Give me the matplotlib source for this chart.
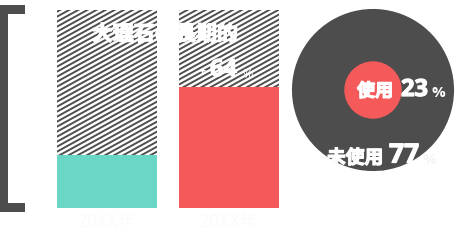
import numpy as np
import matplotlib.pyplot as plt
import matplotlib.patheffects as pe
from matplotlib.patches import Circle, Rectangle
from matplotlib.collections import LineCollection
from matplotlib.transforms import IdentityTransform

plt.rcParams['font.family'] = ['Noto Sans CJK JP', 'DejaVu Sans']

# -----------------------------
# Data
# -----------------------------
years = ['20XX年', '20XX年']
shares = [27, 61]
bar_colors = ['#6ad6c5', '#f55a5a']
title = '大理石の長期的'
growth = 64
pie_labels = ['使用', '未使用']
pie_values = [23, 77]

dark = '#4d4d4d'
W, H = 460, 240
bold = [pe.withStroke(linewidth=0.9, foreground='white')]

fig = plt.figure(figsize=(W / 100, H / 100), dpi=100)

# -----------------------------
# Bars
# -----------------------------
ax = fig.add_axes([57 / W, 32 / H, 222 / W, 198 / H])
x = range(len(shares))
bg = ax.bar(x, [100] * len(shares), width=0.82, color='white', linewidth=0,
            zorder=1)
ax.bar(x, shares, width=0.82, color=bar_colors, linewidth=0, zorder=3)
ax.set_xlim(-0.41, 1.41)
ax.set_ylim(0, 100)
ax.axis('off')
for i, lab in enumerate(years):
    ax.text(i, -7, lab, ha='center', va='center', fontsize=13,
            color='#fbfbfb', clip_on=False)

# diagonal stripes on the bar background (pixel space, clipped to each bar)
slope, period = 0.55, 5.0
for rect in bg:
    segs = [[(0, c), (W, c + slope * W)]
            for c in np.arange(-slope * W, H, period)]
    lc = LineCollection(segs, colors='#4f4f4f', linewidths=1.4,
                        transform=IdentityTransform(), zorder=2)
    ax.add_collection(lc)
    lc.set_clip_path(rect)

# -----------------------------
# Pie (used / unused)
# -----------------------------
pax = fig.add_axes([293 / W, 70 / H, 160 / W, 160 / H])
pax.pie(pie_values[::-1], colors=[dark, dark], radius=1,
        wedgeprops=dict(linewidth=1.5, edgecolor=dark))
pax.add_patch(Circle((0, 0), 0.35, color='#f55a5a', zorder=3))
pax.set_xlim(-1, 1)
pax.set_ylim(-1, 1)
pax.set_aspect('equal')
pax.axis('off')

# -----------------------------
# Overlay: bracket and texts (pixel coords)
# -----------------------------
ov = fig.add_axes([0, 0, 1, 1], zorder=5)
ov.set_xlim(0, W)
ov.set_ylim(H, 0)
ov.axis('off')
ov.patch.set_alpha(0)

ov.add_patch(Rectangle((0, 5), 8, 207, color=dark, linewidth=0))
ov.add_patch(Rectangle((0, 5), 25, 9, color=dark, linewidth=0))
ov.add_patch(Rectangle((0, 203), 25, 9, color=dark, linewidth=0))

ov.text(92, 34, title, fontsize=15, fontweight='bold', color='white',
        ha='left', va='center', path_effects=bold)

num_font = ['Open Sans', 'Noto Sans CJK JP']
ov.text(202, 72, '+', fontsize=9, fontweight='bold', color='white',
        ha='center', va='center', family=num_font)
ov.text(210, 70, f'{growth}', fontsize=17, fontweight='bold', color='white',
        ha='left', va='center', family=num_font, path_effects=bold)
ov.text(242, 74, '%', fontsize=9, color='white', ha='left', va='center',
        family=num_font)

ov.text(375, 91, pie_labels[0], fontsize=13, fontweight='bold', color='white',
        ha='center', va='center', path_effects=bold)
ov.text(401, 90, f'{pie_values[0]}', fontsize=17, fontweight='bold',
        color='white', ha='left', va='center', family=num_font,
        path_effects=bold)
ov.text(432, 93, '%', fontsize=11, fontweight='bold', color='white',
        ha='left', va='center', family=num_font)

ov.text(327, 158, pie_labels[1], fontsize=13.5, fontweight='bold',
        color='white', ha='left', va='center', path_effects=bold)
ov.text(389, 155, f'{pie_values[1]}', fontsize=19, fontweight='bold',
        color='white', ha='left', va='center', family=num_font,
        path_effects=bold)
ov.text(423, 160, '%', fontsize=11, fontweight='bold', color='#f4f4f4',
        ha='left', va='center', family=num_font)

fig.savefig('out.png', dpi=100)
